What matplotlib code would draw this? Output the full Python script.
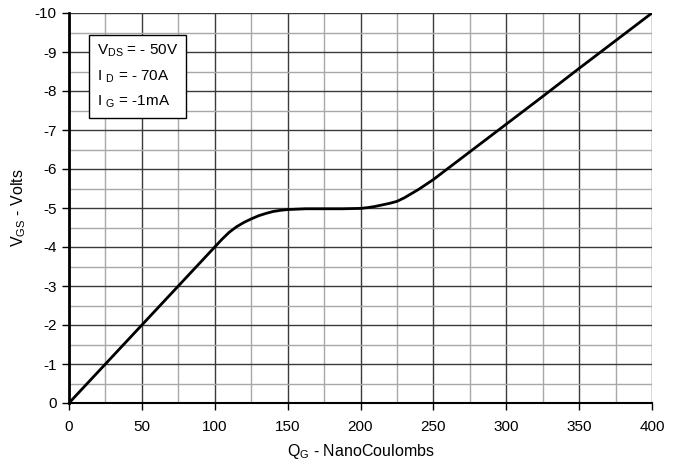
import matplotlib
matplotlib.use("Agg")
import matplotlib.pyplot as plt
from matplotlib.ticker import MultipleLocator

plt.rcParams['font.family'] = ['Liberation Sans', 'DejaVu Sans']
plt.rcParams['axes.unicode_minus'] = False
plt.rcParams['mathtext.fontset'] = 'custom'
plt.rcParams['mathtext.rm'] = 'Liberation Sans'

qg = [0, 25, 50, 75, 100, 105, 110, 115, 120, 125, 130, 135, 140, 145, 150, 162.5, 175, 187.5, 200, 205, 210, 215, 220, 225, 230, 240, 250, 275, 300, 325, 350, 375, 400]
vgs = [0, -1.0, -2.0, -3.0, -4.0, -4.2, -4.38, -4.52, -4.63, -4.72, -4.8, -4.86, -4.91, -4.94, -4.96, -4.98, -4.98, -4.98, -4.99, -5.01, -5.04, -5.08, -5.12, -5.17, -5.26, -5.48, -5.73, -6.44, -7.15, -7.86, -8.58, -9.29, -10.0]

x_ticks = [0, 50, 100, 150, 200, 250, 300, 350, 400]
y_ticks = [0, -1, -2, -3, -4, -5, -6, -7, -8, -9, -10]

fig = plt.figure(figsize=(6.87, 4.70), dpi=100)
ax = fig.add_axes([69/687, 1-403/470, (652-69)/687, (403-13)/470])

ax.set_xlim(0, 400)
ax.set_ylim(0, -10)
ax.set_xticks(x_ticks)
ax.set_yticks(y_ticks)
ax.xaxis.set_minor_locator(MultipleLocator(25))
ax.yaxis.set_minor_locator(MultipleLocator(0.5))
ax.grid(which='major', color='#3a3a3a', linewidth=1.0)
ax.grid(which='minor', color='#a8a8a8', linewidth=1.0)
ax.set_axisbelow(True)
ax.tick_params(which='major', direction='out', length=5, width=1, labelsize=11, color='black')
ax.tick_params(which='minor', length=0)
ax.tick_params(axis='x', pad=7)
ax.tick_params(axis='y', pad=4)

for s in ['top', 'right']:
    ax.spines[s].set_visible(False)
ax.spines['left'].set_linewidth(2)
ax.spines['bottom'].set_linewidth(1.5)

ax.plot(qg, vgs, color='black', linewidth=2, solid_capstyle='round', solid_joinstyle='round')

ax.set_xlabel(r'Q$_\mathregular{G}$ - NanoCoulombs', fontsize=11.5, labelpad=6)
ax.set_ylabel(r'V$_\mathregular{GS}$ - Volts', fontsize=11.5, labelpad=5)

txt = r'V$_\mathregular{DS}$ = - 50V' + '\n' + r'I $_\mathregular{D}$ = - 70A' + '\n' + r'I $_\mathregular{G}$ = -1mA'
ax.text(0.048, 0.925, txt, transform=ax.transAxes, fontsize=11, va='top', ha='left',
        linespacing=1.75,
        bbox=dict(boxstyle='square,pad=0.5', facecolor='white', edgecolor='black', linewidth=1))

fig.savefig('out.png', dpi=100)
